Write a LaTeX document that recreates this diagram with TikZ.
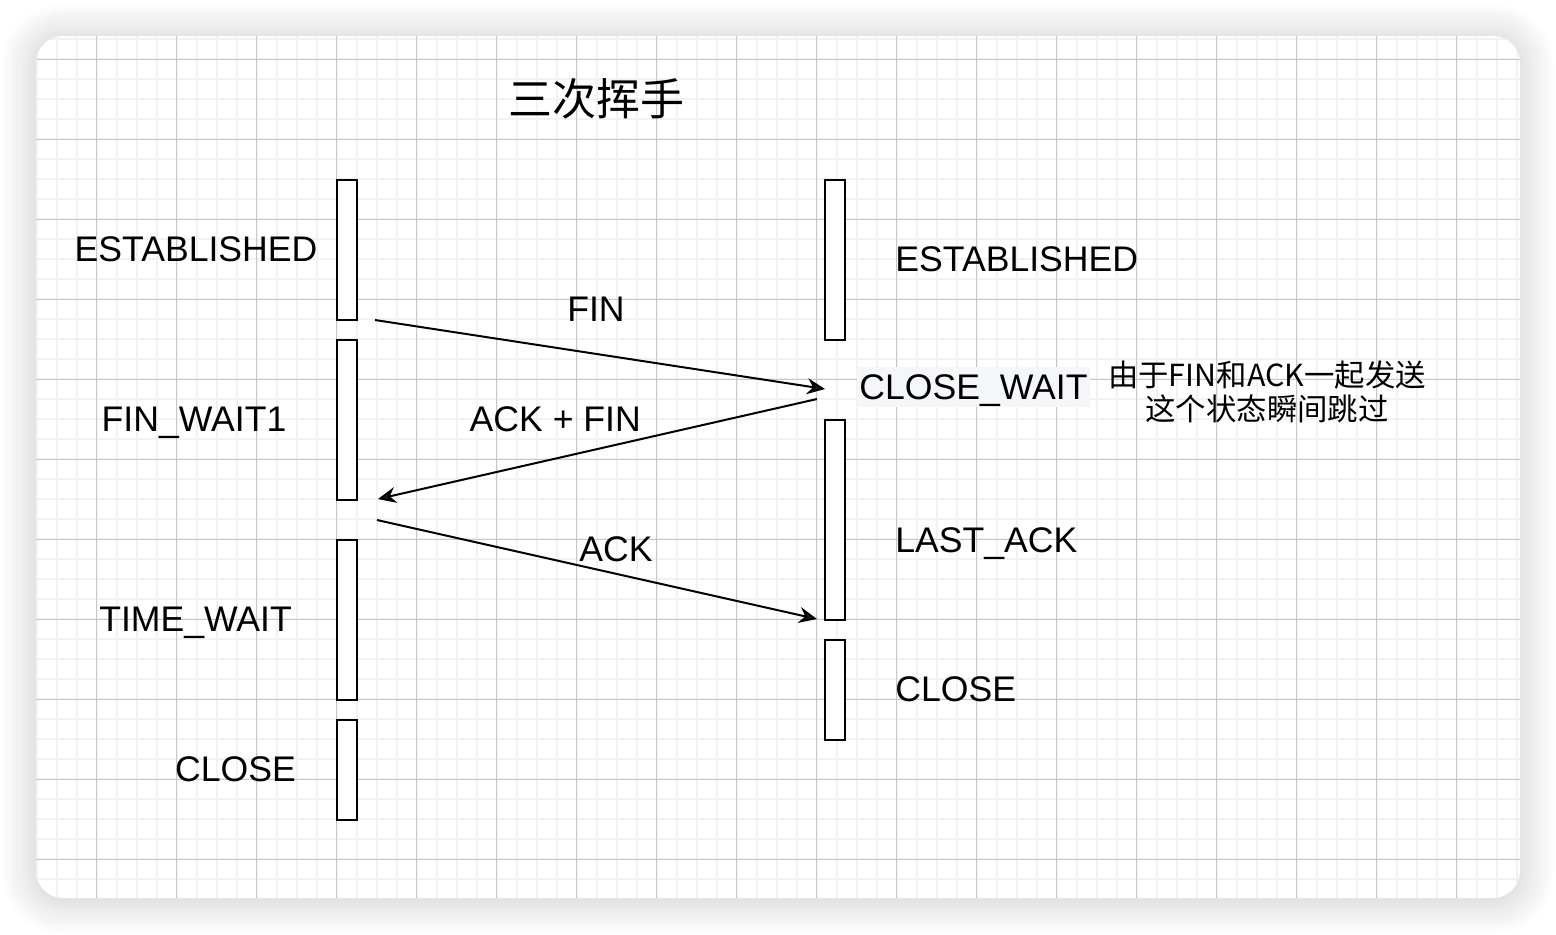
\documentclass[tikz,border=0pt]{standalone}
\usepackage{fontspec}
\setmainfont{Liberation Sans}
\newfontfamily\cjk{Noto Sans CJK SC}
\usepackage{xcolor}
\usepackage{tikz}
\usetikzlibrary{arrows.meta,shadows.blur}

\definecolor{gridminor}{RGB}{242,242,242}
\definecolor{gridmajor}{RGB}{200,200,200}
\definecolor{labelbg}{RGB}{245,246,248}

\tikzset{
    lifebox/.style={draw, line width=1pt, fill=white, minimum width=10pt,
      inner sep=0pt, outer sep=0pt, anchor=north},
    statelabel/.style={font=\fontsize{17.8}{21}\selectfont, inner sep=0pt, anchor=base},
    msg/.style={line width=1pt, -{Stealth[length=9pt, width=8pt, inset=3pt]}},
}

\begin{document}
\begin{tikzpicture}[x=0.5pt, y=-0.5pt]

    \useasboundingbox (0,0) rectangle (1556,934);

    % Card
    \path[fill=white, rounded corners=13.5pt,
      blur shadow={shadow xshift=0pt, shadow yshift=-1pt,
        shadow blur radius=18pt, shadow blur steps=30, shadow opacity=22}]
      (36,36) rectangle (1520,898);

    % Grid
    \begin{scope}
        \clip[rounded corners=13.5pt] (36,36) rectangle (1520,898);
        \foreach \i in {0,...,74} {
            \draw[gridminor, line width=1pt] ({36.7+20*\i},36) -- ({36.7+20*\i},898);
        }
        \foreach \i in {0,...,42} {
            \draw[gridminor, line width=1pt] (36,{39.3+20*\i}) -- (1520,{39.3+20*\i});
        }
        \foreach \i in {0,...,17} {
            \draw[gridmajor, line width=0.5pt] ({96.7+80*\i},36) -- ({96.7+80*\i},898);
        }
        \foreach \i in {0,...,10} {
            \draw[gridmajor, line width=0.5pt] (36,{59.3+80*\i}) -- (1520,{59.3+80*\i});
        }
    \end{scope}

    % Title
    \node[font=\cjk\fontsize{22}{26}\selectfont, inner sep=0pt] (title) at (596,99) {三次挥手};

    % Lifelines
    \foreach \name/\x/\t/\b in {a1/347/180/320, a2/347/340/500, a3/347/540/700,
      a4/347/720/820, b1/835/180/340, b2/835/420/620, b3/835/640/740} {
        \node[lifebox, minimum height={(\b-\t)*0.5pt}] (\name) at (\x,\t) {};
    }

    % Client states
    \node[statelabel] (cEst) at (196,261) {ESTABLISHED};
    \node[statelabel] (cFin) at (194,431.7) {FIN\_WAIT1};
    \node[statelabel] (cTime) at (195.5,631.7) {TIME\_WAIT};
    \node[statelabel] (cClose) at (235.5,781.7) {CLOSE};

    % Server states
    \node[statelabel, anchor=base west] (sEst) at (895,271.7) {ESTABLISHED};
    \node[statelabel, anchor=base west, fill=labelbg, text height=16pt,
      text depth=3.85pt, inner xsep=1pt] (sWait) at (857,399) {CLOSE\_WAIT};
    \node[statelabel, anchor=base west] (sLast) at (895,552) {LAST\_ACK};
    \node[statelabel, anchor=base west] (sClose) at (895,701.7) {CLOSE};

    \node[font=\cjk\fontsize{15.2}{17}\selectfont, align=center, inner sep=0pt]
      (note) at (1267,392) {由于FIN和ACK一起发送\\这个状态瞬间跳过};

    % Messages
    \coordinate (finS) at (375,320);
    \coordinate (finE) at (825,389);
    \coordinate (afS) at (817,399);
    \coordinate (afE) at (378,499);
    \coordinate (ackS) at (377,520);
    \coordinate (ackE) at (817,619);

    \draw[msg] (finS) -- (finE);
    \draw[msg] (afS) -- (afE);
    \draw[msg] (ackS) -- (ackE);

    \node[statelabel] (finL) at (596,321.7) {FIN};
    \node[statelabel] (afL) at (555.3,431.7) {ACK + FIN};
    \node[statelabel] (ackL) at (616,561.7) {ACK};

\end{tikzpicture}
\end{document}
